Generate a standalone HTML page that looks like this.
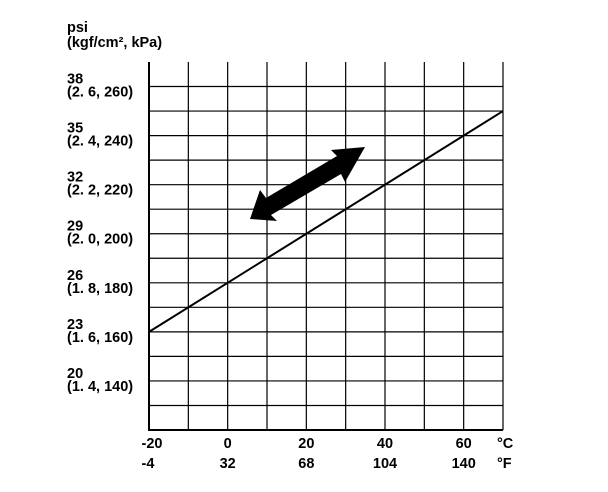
<!DOCTYPE html>
<html><head><meta charset="utf-8"><style>
body{margin:0;background:#fff;}
svg{display:block;font-family:"Liberation Sans",Arial,sans-serif;font-weight:bold;}
</style></head><body>
<svg id="chart" width="608" height="492" viewBox="0 0 608 492">
<text x="67" y="32" font-size="14.5">psi</text>
<text x="67" y="47" font-size="14.5">(kgf/cm², kPa)</text>
<g id="grid"></g>
<g id="labels"></g>
<g id="series"></g>
<polygon fill="#000" points="250,219 260,190 266,198 337,156 331,150 365,147 345,182 341,174 271,215 277,221"/>
<text x="497" y="448" font-size="14.5">°C</text>
<text x="497" y="468" font-size="14.5">°F</text>
</svg>
<script>
const xTicksC=[-20,0,20,40,60];
const xTicksF=["-4","32","68","104","140"];
const yTicksPsi=[38,35,32,29,26,23,20];
const yTicksSub=["(2. 6, 260)","(2. 4, 240)","(2. 2, 220)","(2. 0, 200)","(1. 8, 180)","(1. 6, 160)","(1. 4, 140)"];
const lineTemps=[-20,70];
const linePsi=[23,36.5];

const X0=149,X1=503,Y0=62,Y1=430;
const xMin=-20,xMax=70,yMin=17,yMax=39.5;
const sx=v=>X0+(v-xMin)/(xMax-xMin)*(X1-X0);
const sy=v=>Y1-(v-yMin)/(yMax-yMin)*(Y1-Y0);
const NS="http://www.w3.org/2000/svg";
function mk(t,a,p){const e=document.createElementNS(NS,t);for(const k in a)e.setAttribute(k,a[k]);p.appendChild(e);return e;}
const grid=document.getElementById('grid');
for(let c=xMin+10;c<=xMax;c+=10){
  const l=mk('line',{x1:sx(c),x2:sx(c),y1:Y0,y2:Y1,stroke:'#000','stroke-width':1.2},grid);
  
  
}
for(let p=yMin+1.5;p<yMax-0.01;p+=1.5){
  const l=mk('line',{x1:X0,x2:X1,y1:sy(p),y2:sy(p),stroke:'#000','stroke-width':1.2},grid);
  
  
}
const ax=mk('polyline',{points:`${X0},${Y0} ${X0},${Y1} ${X1},${Y1}`,fill:'none',stroke:'#000','stroke-width':2},grid);


const lab=document.getElementById('labels');
xTicksC.forEach((c,i)=>{
  const t=mk('text',{x:sx(c)+(i===0?3:0),y:448,'font-size':14.5,'text-anchor':'middle'},lab);t.textContent=c;
  
  
  const f=mk('text',{x:sx(c)+(i===0?-1:0),y:468,'font-size':14.5,'text-anchor':'middle'},lab);f.textContent=xTicksF[i];
  
  
});
yTicksPsi.forEach((p,i)=>{
  const y=sy(p);
  const t=mk('text',{x:67,y:y-3,'font-size':14.5},lab);t.textContent=p;
  
  
  const s=mk('text',{x:67,y:y+10,'font-size':14.5},lab);s.textContent=yTicksSub[i];
  
  
});
const ser=document.getElementById('series');
const pl=mk('polyline',{points:lineTemps.map((t,i)=>sx(t)+','+sy(linePsi[i])).join(' '),fill:'none',stroke:'#000','stroke-width':2},ser);


</script>
</body></html>
